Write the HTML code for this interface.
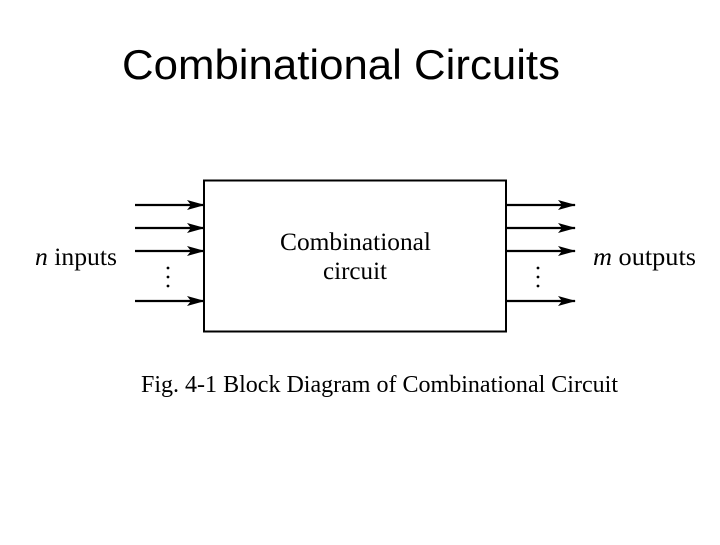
<!DOCTYPE html>
<html><head><style>
body{margin:0;width:720px;height:540px;background:#fff;overflow:hidden}
</style></head><body>
<svg width="720" height="540" xmlns="http://www.w3.org/2000/svg">
<defs><marker id="a" markerWidth="18" markerHeight="10" refX="17" refY="5" orient="auto" markerUnits="userSpaceOnUse"><path d="M0,0 L18,5 L0,10 L4,5 Z" fill="#000"/></marker></defs>
<text x="122" y="79" font-family="Liberation Sans, sans-serif" font-size="42" textLength="438" lengthAdjust="spacingAndGlyphs">Combinational Circuits</text>
<rect x="204" y="180.5" width="302" height="151" fill="none" stroke="#000" stroke-width="2"/>
<g stroke="#000" stroke-width="2.2" marker-end="url(#a)">
<line x1="135" y1="205" x2="204" y2="205"/><line x1="135" y1="228" x2="204" y2="228"/><line x1="135" y1="251" x2="204" y2="251"/><line x1="135" y1="301" x2="204" y2="301"/>
<line x1="506" y1="205" x2="575" y2="205"/><line x1="506" y1="228" x2="575" y2="228"/><line x1="506" y1="251" x2="575" y2="251"/><line x1="506" y1="301" x2="575" y2="301"/>
</g>
<g fill="#000"><circle cx="168" cy="268" r="1.4"/><circle cx="168" cy="277" r="1.4"/><circle cx="168" cy="286" r="1.4"/>
<circle cx="538" cy="268" r="1.4"/><circle cx="538" cy="277" r="1.4"/><circle cx="538" cy="286" r="1.4"/></g>
<g font-family="Liberation Serif, serif" font-size="25">
<text x="280" y="250" textLength="151" lengthAdjust="spacingAndGlyphs">Combinational</text>
<text x="323" y="279" textLength="64" lengthAdjust="spacingAndGlyphs">circuit</text>
<text x="35" y="265" textLength="82" lengthAdjust="spacingAndGlyphs"><tspan font-style="italic">n</tspan> inputs</text>
<text x="593" y="265" textLength="103" lengthAdjust="spacingAndGlyphs"><tspan font-style="italic">m</tspan> outputs</text>
<text x="141" y="392" font-size="24" textLength="477" lengthAdjust="spacingAndGlyphs">Fig. 4-1  Block Diagram of Combinational Circuit</text>
</g>
</svg>
</body></html>
